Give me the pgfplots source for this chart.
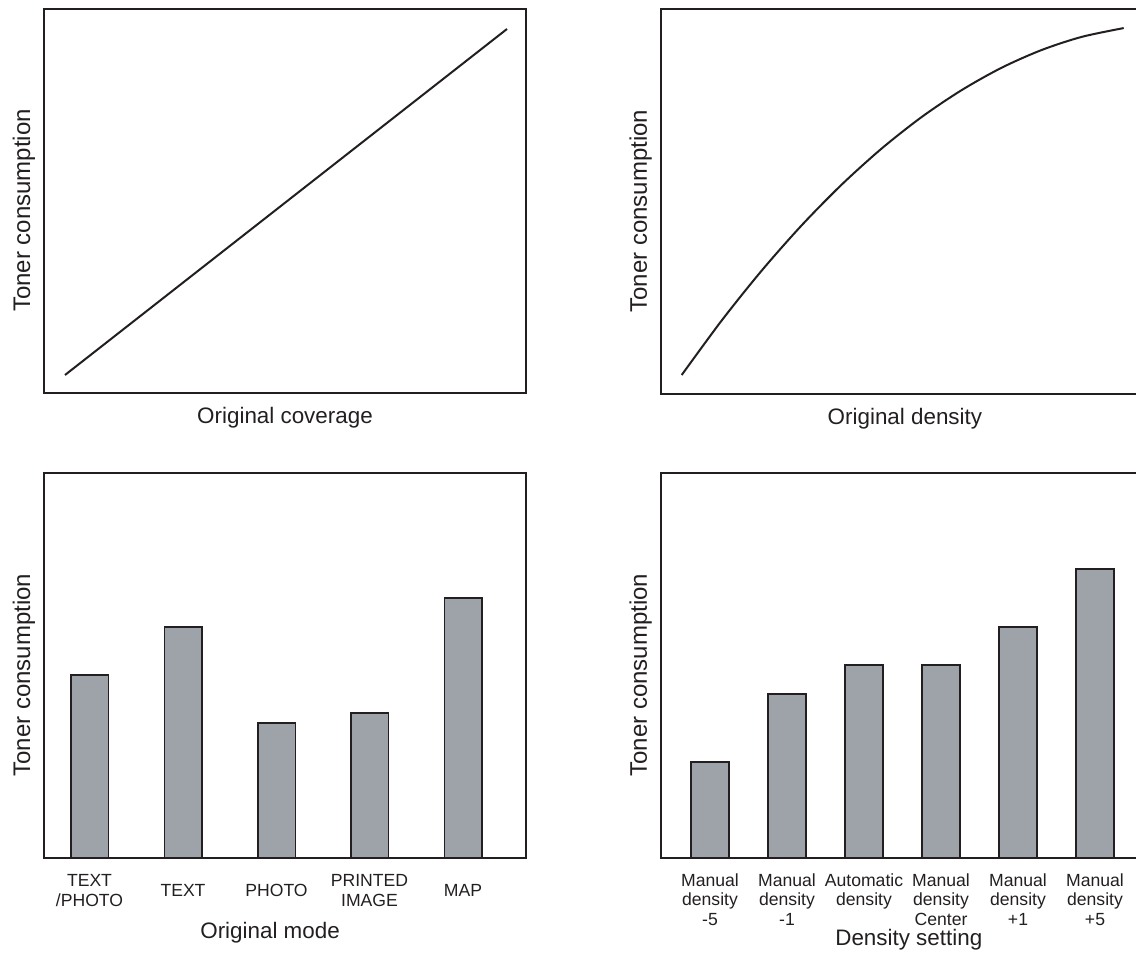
\documentclass[border=0pt]{standalone}
\usepackage{fontspec}
\setmainfont{Liberation Sans}
\usepackage{pgfplots}
\pgfplotsset{compat=1.18}
\definecolor{ink}{RGB}{35,31,32}
\definecolor{barfill}{RGB}{157,163,168}
\pgfplotsset{
  panel/.style={scale only axis, anchor=south west,
    axis line style={ink, line width=1.35pt},
    xtick=\empty, ytick=\empty, clip=true,
    xlabel style={font=\fontsize{11.2}{13}\selectfont, text=ink, anchor=base},
    ylabel style={font=\fontsize{12}{14}\selectfont, text=ink,
      at={(axis description cs:-0.029,0.475)}, anchor=base},
    ylabel={Toner consumption},
  },
  barpanel/.style={panel, ybar, bar shift=0pt, ymin=0, ymax=385,
    xtick style={draw=none}, ytick=\empty,
    xticklabel style={font=\fontsize{8.8}{9.8}\selectfont, text=ink, align=center},
  },
}
\begin{document}
\begin{tikzpicture}
% top left
\begin{axis}[panel, at={(22pt,283.5pt)}, width=241pt, height=192pt,
  xmin=44, xmax=526, ymin=0, ymax=384,
  xlabel={Original coverage},
  xlabel style={at={(axis description cs:0.5,0)}, yshift=-15.5pt}]
\addplot[ink, line width=1pt] coordinates {(65,18) (507,364)};
\end{axis}
% top right
\begin{axis}[panel, at={(330.5pt,283pt)}, width=241.5pt, height=192.5pt,
  xmin=661, xmax=1144, ymin=0, ymax=385,
  xlabel={Original density},
  xlabel style={at={(axis description cs:0.505,0)}, yshift=-15.5pt}]
\addplot[ink, line width=1pt, smooth] coordinates {
 (681.7,19) (721.7,73.5) (761.7,123.4) (801.7,168.7) (841.7,209.4)
 (881.7,245.5) (921.7,277) (961.7,303.9) (1001.7,326.3) (1041.7,344)
 (1081.7,357.1) (1123.7,365.9)};
\end{axis}
% bottom left
\begin{axis}[barpanel, at={(22pt,51pt)}, width=241pt, height=192.5pt,
  xmin=44, xmax=526, bar width=18.75pt,
  xtick={89.5,183,276.5,369.5,463},
  xticklabels={TEXT\\/PHOTO, TEXT, PHOTO, PRINTED\\IMAGE, MAP},
  xticklabel style={anchor=center, yshift=-12pt},
  xlabel={Original mode},
  xlabel style={at={(axis description cs:0.469,0)}, yshift=-40pt}]
\addplot[draw=ink, line width=0.75pt, fill=barfill] coordinates {
 (89.5,183) (183,231) (276.5,135) (369.5,145) (463,260)};
\end{axis}
% bottom right
\begin{axis}[barpanel, at={(330.5pt,51pt)}, width=241.5pt, height=192.5pt,
  xmin=661, xmax=1144, bar width=19pt,
  xtick={710,787,864,941,1018,1095},
  xticklabels={Manual\\density\\-5, Manual\\density\\-1, Automatic\\density, Manual\\density\\Center, Manual\\density\\+1, Manual\\density\\+5},
  xticklabel style={anchor=north, yshift=0pt},
  xlabel={Density setting},
  xlabel style={at={(axis description cs:0.513,0)}, yshift=-43.5pt}]
\addplot[draw=ink, line width=0.75pt, fill=barfill] coordinates {
 (710,96) (787,164) (864,193) (941,193) (1018,231) (1095,289)};
\end{axis}
\pgfresetboundingbox
\useasboundingbox (0,0) rectangle (568pt,480pt);
\end{tikzpicture}
\end{document}
